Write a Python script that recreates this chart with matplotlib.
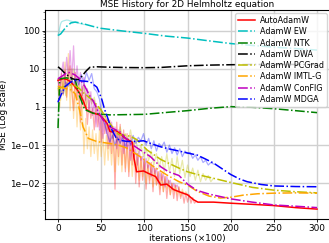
import numpy as np
import matplotlib
matplotlib.use("Agg")
import matplotlib.pyplot as plt
from matplotlib.ticker import FixedLocator, LogLocator, NullFormatter

# smoothed curves (x in units of 100 iterations)
auto_x = [0, 3, 6, 10, 15, 20, 25, 30, 33, 40, 48, 52, 57, 60, 63, 66, 72, 78, 86, 88, 91, 99, 105, 113, 119, 126, 134, 142, 150, 157, 162, 180, 200, 225, 250, 275, 300]
auto_y = [5.0, 5.2, 5.5, 5.3, 4.5, 3.3, 2.3, 1.3, 0.85, 0.7, 0.62, 0.5, 0.37, 0.23, 0.22, 0.25, 0.2, 0.15, 0.12, 0.045, 0.02, 0.021, 0.018, 0.015, 0.009, 0.0095, 0.0068, 0.0058, 0.005, 0.0037, 0.0032, 0.0032, 0.003, 0.0028, 0.0026, 0.0023, 0.0021]

ew_x = [0, 3, 6, 10, 15, 20, 25, 30, 40, 50, 75, 100, 125, 150, 175, 200, 225, 250, 275, 300]
ew_y = [75, 82, 100, 130, 160, 168, 160, 150, 130, 115, 98, 85, 72, 64, 54, 46, 41, 37, 34, 31]

ntk_x = [0, 2, 10, 20, 25, 31, 41, 53, 60, 80, 100, 126, 150, 175, 200, 225, 250, 275, 300]
ntk_y = [0.28, 5.5, 5.8, 5.0, 1.9, 0.85, 0.68, 0.64, 0.62, 0.63, 0.64, 0.72, 0.8, 0.92, 1.02, 0.98, 0.9, 0.8, 0.71]

dwa_x = [0, 4, 8, 12, 16, 20, 24, 28, 32, 37, 45, 60, 80, 100, 120, 150, 175, 200, 225, 250, 275, 300]
dwa_y = [11.3, 9.5, 7.6, 6.5, 5.6, 5.2, 5.3, 6.5, 8.5, 11.0, 11.3, 11.0, 10.8, 10.7, 10.9, 12.0, 12.5, 12.8, 13.0, 13.0, 13.0, 13.0]

pcg_x = [0, 5, 10, 15, 20, 25, 30, 40, 50, 57, 63, 70, 78, 84, 91, 103, 119, 130, 140, 150, 161, 180, 200, 225, 250, 275, 300]
pcg_y = [3.0, 3.3, 3.6, 3.8, 3.6, 3.0, 2.3, 1.5, 0.83, 0.46, 0.3, 0.19, 0.18, 0.17, 0.14, 0.075, 0.042, 0.032, 0.025, 0.02, 0.017, 0.0135, 0.0105, 0.0078, 0.0066, 0.006, 0.0056]

imtl_x = [0, 5, 10, 15, 20, 25, 29, 35, 45, 60, 70, 80, 95, 111, 126, 140, 150, 161, 175, 188, 200, 215, 231, 250, 275, 300]
imtl_y = [3.5, 3.2, 3.0, 2.8, 2.2, 0.83, 0.3, 0.15, 0.124, 0.11, 0.1, 0.083, 0.05, 0.027, 0.0165, 0.011, 0.009, 0.0062, 0.0046, 0.0041, 0.0043, 0.0049, 0.0053, 0.0055, 0.0056, 0.0055]

config_x = [0, 5, 10, 14, 20, 25, 31, 37, 41, 46, 52, 60, 72, 84, 95, 107, 119, 128, 140, 150, 161, 175, 200, 225, 250, 275, 300]
config_y = [5.5, 6.5, 7.8, 8.0, 6.8, 5.5, 3.5, 1.9, 1.4, 0.8, 0.46, 0.3, 0.22, 0.11, 0.075, 0.05, 0.027, 0.02, 0.016, 0.0095, 0.0065, 0.0052, 0.0039, 0.0032, 0.0027, 0.0025, 0.0023]

mdga_x = [0, 4, 8, 14, 20, 28, 37, 45, 48, 51, 54, 57, 62, 68, 75, 80, 90, 99, 110, 119, 128, 140, 150, 161, 170, 180, 190, 200, 210, 219, 235, 250, 275, 300]
mdga_y = [1.35, 2.2, 3.4, 4.4, 5.0, 4.8, 4.6, 3.3, 2.3, 1.5, 0.85, 0.56, 0.26, 0.145, 0.13, 0.125, 0.125, 0.13, 0.105, 0.09, 0.08, 0.07, 0.062, 0.055, 0.044, 0.034, 0.024, 0.017, 0.013, 0.011, 0.0093, 0.0085, 0.0082, 0.0081]

# raw (noisy) curves, drawn faintly
auto_raw_x = list(range(0, 161, 2))
auto_raw_y = [5.0, 3.0, 7.5, 2.2, 9.0, 1.8, 6.0, 12.0, 2.5, 0.8, 8.0, 1.5, 4.0, 0.4, 3.5, 1.0, 2.2, 0.35, 1.5, 0.5,
              0.9, 0.25, 1.2, 0.3, 0.8, 0.12, 0.6, 0.2, 0.5, 0.08, 0.45, 0.06, 0.3, 0.007, 0.4, 0.05, 0.35, 0.03, 0.25, 0.02,
              0.2, 0.015, 0.18, 0.03, 0.12, 0.01, 0.06, 0.008, 0.05, 0.012, 0.04, 0.007, 0.03, 0.01, 0.035, 0.006, 0.025, 0.009, 0.02, 0.005,
              0.018, 0.006, 0.015, 0.004, 0.012, 0.005, 0.01, 0.004, 0.009, 0.0035, 0.008, 0.004, 0.006, 0.003, 0.0055, 0.0032, 0.005, 0.003, 0.0042, 0.003, 0.0033]

imtl_raw_x = list(range(0, 151, 2))
imtl_raw_y = [3.5, 1.0, 6.0, 2.0, 15.0, 1.5, 25.0, 0.8, 10.0, 0.5, 4.0, 0.3, 2.0, 0.25, 1.2, 0.06, 0.5, 0.08, 0.3, 0.05,
              0.25, 0.06, 0.2, 0.04, 0.25, 0.05, 0.2, 0.03, 0.18, 0.04, 0.15, 0.03, 0.16, 0.02, 0.14, 0.03, 0.12, 0.02, 0.1, 0.025,
              0.09, 0.02, 0.08, 0.015, 0.07, 0.02, 0.06, 0.012, 0.05, 0.015, 0.045, 0.01, 0.04, 0.012, 0.03, 0.008, 0.025, 0.009, 0.02, 0.007,
              0.018, 0.006, 0.015, 0.007, 0.012, 0.005, 0.01, 0.006, 0.009, 0.005, 0.008, 0.0045, 0.007, 0.005, 0.006, 0.005]

config_raw_x = list(range(0, 141, 2))
config_raw_y = [5.5, 2.0, 8.0, 15.0, 4.0, 20.0, 6.0, 30.0, 5.0, 40.0, 3.0, 12.0, 4.0, 8.0, 2.0, 6.0, 1.5, 3.0, 0.8, 2.5,
                0.6, 1.5, 0.3, 1.0, 0.25, 0.6, 0.15, 0.5, 0.2, 0.35, 0.1, 0.4, 0.15, 0.3, 0.08, 0.25, 0.12, 0.2, 0.06, 0.15,
                0.08, 0.12, 0.04, 0.1, 0.05, 0.08, 0.03, 0.07, 0.04, 0.05, 0.02, 0.045, 0.025, 0.035, 0.015, 0.03, 0.018, 0.025, 0.01, 0.02,
                0.012, 0.018, 0.008, 0.015, 0.01, 0.012, 0.007, 0.01, 0.008, 0.009, 0.0065]

mdga_raw_x = list(range(0, 181, 3))
mdga_raw_y = [1.3, 2.8, 2.2, 4.5, 3.5, 6.0, 4.0, 5.5, 3.8, 7.0, 4.2, 8.0, 5.0, 7.5, 3.0, 2.5, 1.6, 0.6, 0.35, 0.2,
              0.12, 0.18, 0.1, 0.16, 0.11, 0.17, 0.09, 0.15, 0.1, 0.18, 0.11, 0.16, 0.13, 0.2, 0.1, 0.15, 0.08, 0.13, 0.07, 0.11,
              0.09, 0.12, 0.065, 0.1, 0.06, 0.085, 0.055, 0.08, 0.05, 0.07, 0.06, 0.065, 0.045, 0.055, 0.04, 0.05, 0.035, 0.04, 0.03, 0.035, 0.032]

pcg_raw_x = list(range(0, 181, 3))
pcg_raw_y = [3.0, 1.5, 5.0, 2.0, 8.0, 2.5, 10.0, 3.0, 6.0, 1.5, 4.0, 1.0, 2.5, 1.2, 1.8, 0.8, 1.0, 0.5, 0.6, 0.25,
             0.35, 0.15, 0.25, 0.12, 0.3, 0.15, 0.2, 0.12, 0.25, 0.09, 0.15, 0.06, 0.1, 0.05, 0.08, 0.04, 0.07, 0.03, 0.06, 0.025,
             0.05, 0.02, 0.06, 0.02, 0.045, 0.015, 0.05, 0.018, 0.04, 0.014, 0.03, 0.015, 0.025, 0.012, 0.022, 0.011, 0.018, 0.012, 0.016, 0.011, 0.0135]

ew_raw_x = [0, 1, 2, 3, 4, 6, 8, 10, 12, 14, 16, 20, 25, 30]
ew_raw_y = [75, 90, 120, 150, 170, 180, 185, 190, 188, 180, 175, 165, 155, 145]

ytick_vals = [1e-2, 1e-1, 1, 10, 100]
ytick_labels = ["1e\u221202", "1e\u221201", "1", "10", "100"]
xtick_vals = [0, 50, 100, 150, 200, 250, 300]

fs = 6.4
fig = plt.figure(figsize=(3.29, 2.43), dpi=100)
ax = fig.add_axes([0.137, 0.099, 0.866, 0.860])

raw_kw = dict(lw=0.9, alpha=0.33)
ax.plot(auto_raw_x, auto_raw_y, color='r', **raw_kw)
ax.plot(ew_raw_x, ew_raw_y, color='c', **raw_kw)
ax.plot(pcg_raw_x, pcg_raw_y, color='y', **raw_kw)
ax.plot(imtl_raw_x, imtl_raw_y, color='orange', **raw_kw)
ax.plot(config_raw_x, config_raw_y, color='m', **raw_kw)
ax.plot(mdga_raw_x, mdga_raw_y, color='b', **raw_kw)

lw = 1.1
ax.plot(auto_x, auto_y, '-', color='r', lw=lw, label='AutoAdamW')
ax.plot(ew_x, ew_y, '-.', color='c', lw=lw, label='AdamW EW')
ax.plot(ntk_x, ntk_y, '-.', color='g', lw=lw, label='AdamW NTK')
ax.plot(dwa_x, dwa_y, '-.', color='k', lw=lw, label='AdamW DWA')
ax.plot(pcg_x, pcg_y, '-.', color='y', lw=lw, label='AdamW PCGrad')
ax.plot(imtl_x, imtl_y, '-.', color='orange', lw=lw, label='AdamW IMTL-G')
ax.plot(config_x, config_y, '-.', color='m', lw=lw, label='AdamW ConFIG')
ax.plot(mdga_x, mdga_y, '-.', color='b', lw=lw, label='AdamW MDGA')

ax.set_yscale('log')
ax.set_xlim(-15, 315)
ax.set_ylim(1.16e-3, 349)
ax.yaxis.set_major_locator(FixedLocator(ytick_vals))
ax.set_yticklabels(ytick_labels)
ax.yaxis.set_minor_locator(LogLocator(base=10, subs=np.arange(2, 10)))
ax.yaxis.set_minor_formatter(NullFormatter())
ax.set_xticks(xtick_vals)
ax.tick_params(labelsize=fs, length=2.5, width=0.6, pad=1.5)
ax.tick_params(which='minor', length=1.5, width=0.4)
ax.grid(True, which='major', color='#d0d0d0', lw=1.0)
for s in ax.spines.values():
    s.set_linewidth(0.8)

ax.set_title('MSE History for 2D Helmholtz equation', fontsize=fs, pad=2)
ax.set_xlabel('iterations (\u00d7100)', fontsize=fs, labelpad=0.5)
ax.set_ylabel('MSE (Log scale)', fontsize=fs, labelpad=1)
ax.legend(loc='upper right', fontsize=5.8, handlelength=2.1, handletextpad=0.6,
          labelspacing=0.28, borderpad=0.35, borderaxespad=0.4)

fig.savefig('out.png', dpi=100)
